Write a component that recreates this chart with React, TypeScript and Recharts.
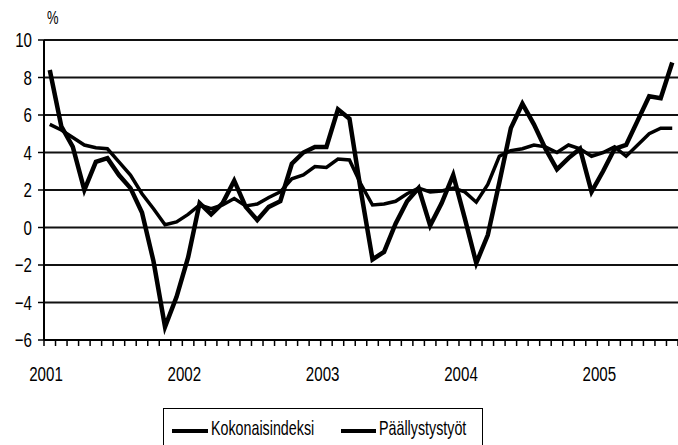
import { CartesianGrid, Line, LineChart, XAxis, YAxis } from "recharts";

// Monthly index, Jan 2001 – Jul 2005 (% change on year)
const years = ["2001", "2002", "2003", "2004", "2005"];

const kokonaisindeksi = [
  5.5, 5.2, 4.8, 4.4, 4.25, 4.2, 3.5, 2.8, 1.8, 1.0, 0.15, 0.3,
  0.7, 1.2, 1.0, 1.2, 1.55, 1.15, 1.25, 1.6, 1.9, 2.6, 2.8, 3.25,
  3.2, 3.65, 3.6, 2.3, 1.2, 1.25, 1.4, 1.8, 2.1, 1.9, 1.95, 2.1,
  1.9, 1.35, 2.3, 3.8, 4.1, 4.2, 4.4, 4.3, 4.0, 4.4, 4.2, 3.8,
  4.0, 4.3, 3.8, 4.4, 5.0, 5.3, 5.3,
];

const paallystystyot = [
  8.4, 5.4, 4.3, 2.0, 3.5, 3.7, 2.8, 2.1, 0.8, -1.8, -5.3, -3.7,
  -1.6, 1.3, 0.7, 1.3, 2.5, 1.1, 0.4, 1.1, 1.4, 3.4, 4.0, 4.3,
  4.3, 6.3, 5.8, 1.9, -1.7, -1.3, 0.2, 1.4, 2.1, 0.1, 1.3, 2.8,
  0.5, -1.9, -0.4, 2.4, 5.3, 6.6, 5.5, 4.2, 3.1, 3.7, 4.2, 1.9,
  3.0, 4.2, 4.4, 5.7, 7.0, 6.9, 8.8,
];

const yTicks = [-6, -4, -2, 0, 2, 4, 6, 8, 10];

const monthCount = 55;
const monthTicks = Array.from({ length: monthCount + 1 }, (_, i) => i);

// each month is drawn in the middle of its slot
const data = kokonaisindeksi.map((k, i) => ({
  m: i + 0.5,
  kokonais: k,
  paallystys: paallystystyot[i],
}));

const FONT = "'Liberation Sans', Arial, sans-serif";
const SQUEEZE = 0.72; // the original uses a condensed face

function YearTick(props: any) {
  const { x, y, payload } = props;
  const v = payload.value as number;
  if (v % 12 !== 0) return <g />;
  return (
    <text
      transform={`translate(${x + 2},${y + 33}) scale(${SQUEEZE},1)`}
      textAnchor="middle"
      fill="#000"
      fontSize={21}
      fontFamily={FONT}
    >
      {years[v / 12]}
    </text>
  );
}

function ValueTick(props: any) {
  const { x, y, payload } = props;
  const label = String(payload.value).replace("-", "\u2212");
  return (
    <text
      transform={`translate(${x},${y + 7}) scale(${SQUEEZE},1)`}
      textAnchor="end"
      fill="#000"
      fontSize={21}
      fontFamily={FONT}
    >
      {label}
    </text>
  );
}

const legendText = {
  position: "absolute" as const,
  top: 7,
  fontSize: 21,
  transform: "scaleX(0.68)",
  transformOrigin: "left center",
  whiteSpace: "nowrap" as const,
};

export default function App() {
  return (
    <div
      style={{
        position: "absolute",
        left: 0,
        top: 0,
        width: 678,
        height: 445,
        overflow: "hidden",
        background: "#fff",
        fontFamily: FONT,
      }}
    >
      <span
        style={{
          position: "absolute",
          left: 47,
          top: 8,
          fontSize: 18,
          color: "#000",
          transform: "scaleX(0.72)",
          transformOrigin: "left center",
        }}
      >
        %
      </span>

      <LineChart
        width={678}
        height={445}
        data={data}
        margin={{ top: 40, right: 0, bottom: 55, left: 0 }}
      >
        <CartesianGrid vertical={false} stroke="#111" strokeWidth={1.8} />
        <XAxis
          type="number"
          dataKey="m"
          domain={[0, monthCount]}
          ticks={monthTicks}
          interval={0}
          height={50}
          axisLine={{ stroke: "#000", strokeWidth: 2 }}
          tickLine={{ stroke: "#000", strokeWidth: 1.5 }}
          tickSize={6}
          tick={<YearTick />}
        />
        <YAxis
          domain={[-6, 10]}
          ticks={yTicks}
          width={44}
          axisLine={{ stroke: "#000", strokeWidth: 2 }}
          tickLine={{ stroke: "#000", strokeWidth: 1.5 }}
          tickSize={6}
          tickMargin={6}
          tick={<ValueTick />}
        />
        <Line
          type="linear"
          dataKey="kokonais"
          name="Kokonaisindeksi"
          stroke="#000"
          strokeWidth={3.5}
          dot={false}
          isAnimationActive={false}
        />
        <Line
          type="linear"
          dataKey="paallystys"
          name="Päällystystyöt"
          stroke="#000"
          strokeWidth={4.5}
          dot={false}
          isAnimationActive={false}
        />
      </LineChart>

      <div
        style={{
          position: "absolute",
          left: 163,
          top: 408,
          width: 318,
          height: 50,
          border: "1.5px solid #000",
          color: "#000",
        }}
      >
        <div style={{ position: "absolute", left: 8, top: 20, width: 36, height: 4, background: "#000" }} />
        <span style={{ ...legendText, left: 47 }}>Kokonaisindeksi</span>
        <div style={{ position: "absolute", left: 177, top: 20, width: 35, height: 4, background: "#000" }} />
        <span style={{ ...legendText, left: 215 }}>Päällystystyöt</span>
      </div>
    </div>
  );
}
